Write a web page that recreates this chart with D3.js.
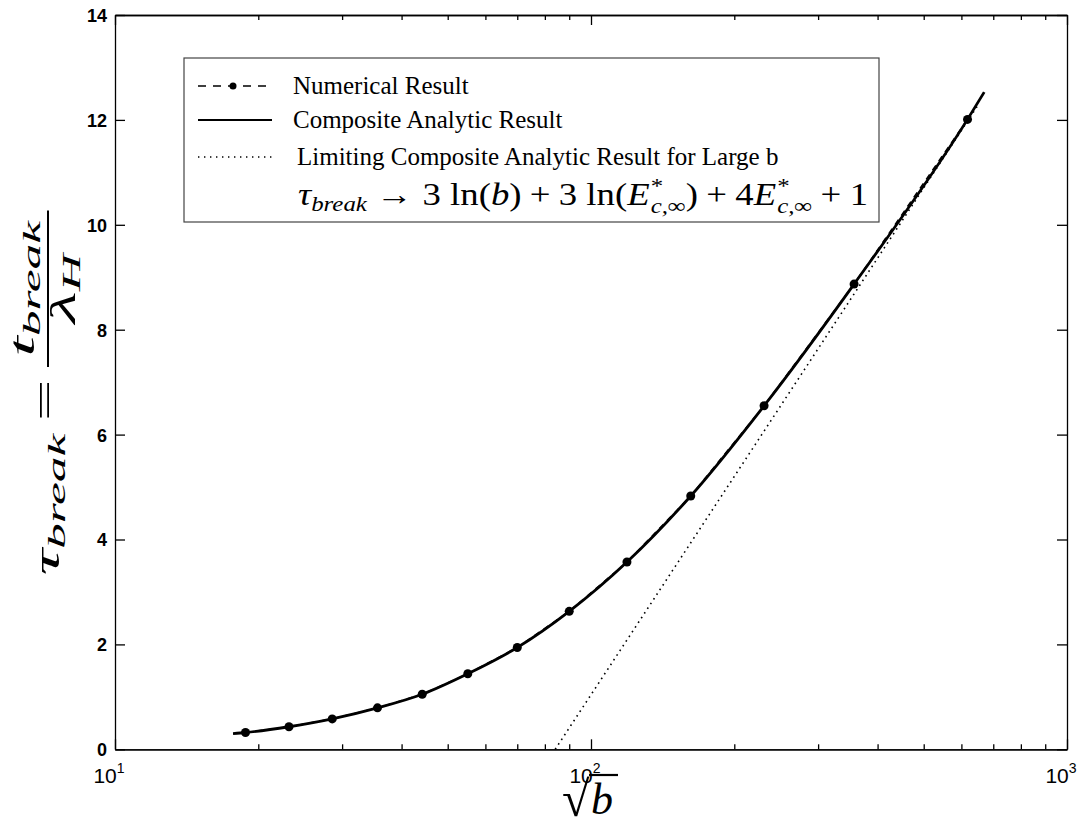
<!DOCTYPE html>
<html>
<head>
<script src='https://d3js.org/d3.v7.min.js'></script>
<style>
body {margin:0; background:white;}
svg {background:white;}
.tk text {font-family:'Liberation Sans',Arial,sans-serif; font-weight:bold; font-size:18px; fill:black;}
.serif {font-family:'Liberation Serif','Times New Roman',serif;}
</style>
</head>
<body>
<svg width=1088 height=830></svg>
<script>
// numerical result (dots + dashed)
var numRootB = [18.8, 23.2, 28.6, 35.6, 44.2, 55.1, 70, 90, 119, 162, 231, 357, 618]
var numTau = [0.32, 0.43, 0.58, 0.79, 1.05, 1.44, 1.94, 2.63, 3.57, 4.83, 6.55, 8.87, 12.01]
// composite analytic result (solid)
var anaRootB = [17.7, 18.8, 23.2, 28.6, 35.6, 44.2, 55.1, 70, 90, 119, 162, 231, 357, 618, 670]
var anaTau = [0.30, 0.32, 0.43, 0.58, 0.79, 1.05, 1.44, 1.94, 2.63, 3.57, 4.83, 6.55, 8.87, 12.01, 12.53]
// limiting composite result for large b (dotted)
var limRootB = [84.1, 650]
var limTau = [0, 12.28]
// ticks
var yTicks = [0, 2, 4, 6, 8, 10, 12, 14]
var xTicks = [10, 100, 1000]
var xTickExp = ['1', '2', '3']

var plotL = 115, plotR = 1067, plotT = 15, plotB = 749.3

var svg = d3.select('svg')
var x = d3.scaleLog().domain([10, 1000]).range([plotL, plotR])
var y = d3.scaleLinear().domain([0, 14]).range([plotB, plotT])
var minor = x.ticks().filter(function(d) {return xTicks.indexOf(d) < 0})

//axes, ticks pointing inward
function frameAxis(axis, tx, ty) {
  var g = svg.append('g').attr('class', 'tk')
    .attr('transform', 'translate(' + tx + ',' + ty + ')')
    .call(axis)
  g.selectAll('path, line').attr('stroke', 'black').attr('stroke-width', 1.3)
  return g
}
frameAxis(d3.axisLeft(y).tickValues(yTicks).tickSizeInner(-10).tickSizeOuter(0).tickPadding(8), plotL, 0)
  .selectAll('text').attr('dy', '0.36em')
frameAxis(d3.axisRight(y).tickValues(yTicks).tickSizeInner(-10).tickSizeOuter(0).tickFormat(''), plotR, 0)
frameAxis(d3.axisBottom(x).tickValues(xTicks).tickSizeInner(-10).tickSizeOuter(0).tickFormat(''), 0, plotB)
frameAxis(d3.axisBottom(x).tickValues(minor).tickSizeInner(-5).tickSizeOuter(0).tickFormat(''), 0, plotB)
frameAxis(d3.axisTop(x).tickValues(xTicks).tickSizeInner(-10).tickSizeOuter(0).tickFormat(''), 0, plotT)
frameAxis(d3.axisTop(x).tickValues(minor).tickSizeInner(-5).tickSizeOuter(0).tickFormat(''), 0, plotT)

//x tick labels 10^n
var xl = svg.append('g').selectAll('text').data(xTicks).enter().append('text')
  .attr('x', function(d) {return x(d) - 6})
  .attr('y', 783)
  .attr('text-anchor', 'middle')
  .attr('font-family', "'Liberation Sans',Arial,sans-serif")
  .attr('font-size', 21)
  .text('10')
xl.append('tspan').attr('dy', -10).attr('font-size', 14).text(function(d, i) {return xTickExp[i]})

//lines
var line = d3.line().x(function(d) {return x(d[0])}).y(function(d) {return y(d[1])})
var numPts = d3.zip(numRootB, numTau)

svg.append('path').datum(d3.zip(limRootB, limTau))
  .attr('d', line).attr('fill', 'none').attr('stroke', 'black')
  .attr('stroke-width', 1.6).attr('stroke-dasharray', '1.6,4')

svg.append('path').datum(numPts)
  .attr('d', line).attr('fill', 'none').attr('stroke', 'black')
  .attr('stroke-width', 1.5).attr('stroke-dasharray', '6,5')

svg.append('path').datum(d3.zip(anaRootB, anaTau))
  .attr('d', line.curve(d3.curveMonotoneX)).attr('fill', 'none').attr('stroke', 'black')
  .attr('stroke-width', 2.8)

svg.append('g').selectAll('circle').data(numPts).enter().append('circle')
  .attr('cx', function(d) {return x(d[0])})
  .attr('cy', function(d) {return y(d[1])})
  .attr('r', 4.5).attr('fill', 'black')

//math typesetting helper: pieces placed one after the other
function typeset(g, x0, base, parts) {
  var cx = x0
  parts.forEach(function(p) {
    if (p.sup !== undefined) {
      var a = g.append('text').attr('class', 'serif').attr('x', cx).attr('y', base - p.rise)
        .attr('font-size', p.size).text(p.sup)
      var b = g.append('text').attr('class', 'serif').attr('x', cx).attr('y', base + p.drop)
        .attr('font-size', p.size).attr('font-style', 'italic').text(p.sub)
      cx += Math.max(a.node().getComputedTextLength(), b.node().getComputedTextLength()) + (p.gap || 0)
    } else {
      var t = g.append('text').attr('class', 'serif').attr('x', cx).attr('y', base + (p.dy || 0))
        .attr('font-size', p.size).attr('font-style', p.it ? 'italic' : 'normal')
        .style('white-space', 'pre').text(p.t)
      cx += t.node().getComputedTextLength() + (p.gap || 0)
    }
  })
  return cx - x0
}

//legend
var lg = svg.append('g')
lg.append('rect').attr('x', 184).attr('y', 58).attr('width', 695).attr('height', 164)
  .attr('fill', 'white').attr('stroke', '#444').attr('stroke-width', 1.2)
var rows = [86, 120, 157]
var labels = ['Numerical Result', 'Composite Analytic Result', 'Limiting Composite Analytic Result for Large b']
lg.append('line').attr('x1', 198).attr('x2', 272).attr('y1', rows[0]).attr('y2', rows[0])
  .attr('stroke', 'black').attr('stroke-width', 1.5).attr('stroke-dasharray', '8,7')
lg.append('circle').attr('cx', 233).attr('cy', rows[0]).attr('r', 3.5).attr('fill', 'black')
lg.append('line').attr('x1', 198).attr('x2', 272).attr('y1', rows[1]).attr('y2', rows[1])
  .attr('stroke', 'black').attr('stroke-width', 1.8)
lg.append('line').attr('x1', 198).attr('x2', 272).attr('y1', rows[2]).attr('y2', rows[2])
  .attr('stroke', 'black').attr('stroke-width', 1.4).attr('stroke-dasharray', '1.4,4.6')
lg.selectAll('text.lab').data(labels).enter().append('text')
  .attr('class', 'serif lab')
  .attr('x', function(d, i) {return i == 2 ? 297 : 293})
  .attr('y', function(d, i) {return rows[i] + 8})
  .attr('font-size', 25)
  .text(function(d) {return d})

//legend formula, stretched to the reference width
var fg = lg.append('g'), fx = 298
var fs = 31, ss = 21
var fw0 = typeset(fg, 0, 205, [
  {t: 'τ', size: fs, it: true},
  {t: 'break', size: ss, it: true, dy: 6, gap: 8},
  {t: '→', size: fs, gap: 8},
  {t: '3 ln(', size: fs},
  {t: 'b', size: fs, it: true},
  {t: ')', size: fs, gap: 7},
  {t: '+', size: fs, gap: 7},
  {t: '3 ln(', size: fs},
  {t: 'E', size: fs, it: true, gap: 1},
  {sup: '*', sub: 'c,∞', size: ss, rise: 12, drop: 8},
  {t: ')', size: fs, gap: 7},
  {t: '+', size: fs, gap: 7},
  {t: '4', size: fs},
  {t: 'E', size: fs, it: true, gap: 1},
  {sup: '*', sub: 'c,∞', size: ss, rise: 12, drop: 8, gap: 7},
  {t: '+', size: fs, gap: 7},
  {t: '1', size: fs}
])
fg.attr('transform', 'translate(' + fx + ',0) scale(' + (570 / fw0) + ',1)')

//y label, rotated and stretched along its baseline
var yl = svg.append('g')
var big = 36, sm = 25
var w1 = typeset(yl, 0, 11, [
  {t: 'τ', size: big, it: true},
  {t: 'break', size: sm, it: true, dy: 6, gap: 6},
  {t: '=', size: big, dy: -2, gap: 6}
])
var num = yl.append('g'), den = yl.append('g')
var nw = typeset(num, 0, -14, [{t: 't', size: big, it: true}, {t: 'break', size: sm, it: true, dy: 6}])
var dw = typeset(den, 0, 27, [{t: 'λ', size: big, it: true}, {t: 'H', size: sm, it: true, dy: 5}])
var fw = Math.max(nw, dw) + 10
num.attr('transform', 'translate(' + (w1 + (fw - nw) / 2) + ',0)')
den.attr('transform', 'translate(' + (w1 + (fw - dw) / 2) + ',0)')
yl.append('line').attr('x1', w1).attr('x2', w1 + fw).attr('y1', 0).attr('y2', 0)
  .attr('stroke', 'black').attr('stroke-width', 2)
var yLen = 365, k = yLen / (w1 + fw)
yl.attr('transform', 'translate(48,' + (393 + yLen / 2) + ') rotate(-90) scale(' + k + ',1)')

//x label sqrt(b)
var xg = svg.append('g')
xg.append('text').attr('class', 'serif').attr('x', 562).attr('y', 816).attr('font-size', 50).text('√')
xg.append('line').attr('x1', 589).attr('x2', 618).attr('y1', 775).attr('y2', 775)
  .attr('stroke', 'black').attr('stroke-width', 2.2)
xg.append('text').attr('class', 'serif').attr('x', 591).attr('y', 814).attr('font-size', 44)
  .attr('font-style', 'italic').text('b')
</script>
</body>
</html>
